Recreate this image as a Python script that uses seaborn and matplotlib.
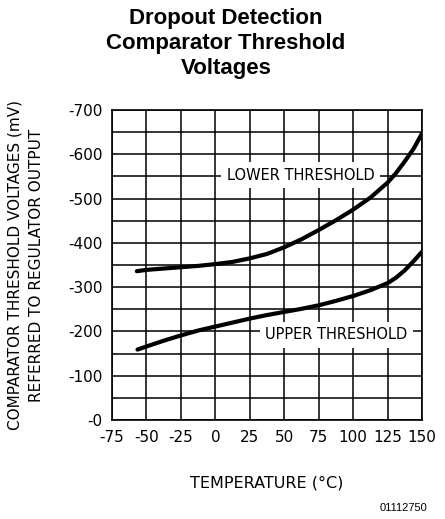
import numpy as np
import pandas as pd
import matplotlib
matplotlib.use("Agg")
import matplotlib.pyplot as plt
from matplotlib.ticker import MultipleLocator, FixedLocator
import seaborn as sns

# values (temperature in degC, threshold in mV)
lower_temp = [-57, -50, -37.5, -25, -12.5, 0, 12.5, 25, 37.5, 50, 62.5, 75, 87.5,
              100, 112.5, 125, 131, 137.5, 144, 150]
lower_mv = [-336, -339, -342, -345, -348, -352, -357, -365, -375, -390, -408, -429, -451,
            -475, -502, -536, -557, -584, -613, -647]
upper_temp = [-56.5, -50, -37.5, -25, -12.5, 0, 12.5, 25, 37.5, 50, 62.5, 75, 87.5,
              100, 112.5, 125, 131, 137.5, 144, 150]
upper_mv = [-159, -166, -179, -191, -202, -211, -220, -229, -237, -244, -251, -259, -269,
            -280, -293, -309, -321, -338, -359, -380]

x_ticks = list(range(-75, 151, 25))
y_ticks = list(range(0, -701, -100))

df = pd.concat([
    pd.DataFrame({"temp": lower_temp, "mv": lower_mv, "curve": "LOWER THRESHOLD"}),
    pd.DataFrame({"temp": upper_temp, "mv": upper_mv, "curve": "UPPER THRESHOLD"}),
])

sns.set_style("white")
plt.rcParams["font.family"] = ["DejaVu Sans"]
for key in ["text.color", "axes.labelcolor", "xtick.color", "ytick.color"]:
    plt.rcParams[key] = "black"

fig = plt.figure(figsize=(4.45, 5.19), dpi=100)
ax = fig.add_axes([112 / 445, 1 - 420 / 519, 310 / 445, 310 / 519])

sns.lineplot(data=df, x="temp", y="mv", units="curve", estimator=None,
             color="black", linewidth=3, ax=ax, zorder=4)

ax.set_xlim(-75, 150)
ax.set_ylim(0, -700)
ax.xaxis.set_major_locator(FixedLocator(x_ticks))
ax.set_xticklabels([str(t) for t in x_ticks])
ax.yaxis.set_major_locator(FixedLocator(y_ticks))
ax.set_yticklabels([f"-{abs(t)}" for t in y_ticks])
ax.yaxis.set_minor_locator(MultipleLocator(50))
ax.grid(which="both", color="black", linewidth=1.1)
ax.tick_params(which="both", length=0, labelsize=11, pad=7)
for s in ax.spines.values():
    s.set_color("black")
    s.set_linewidth(1.2)

ax.set_xlabel("TEMPERATURE (°C)", fontsize=11.5, labelpad=22)
ax.set_ylabel("COMPARATOR THRESHOLD VOLTAGES (mV)\nREFERRED TO REGULATOR OUTPUT",
              fontsize=11, labelpad=17, linespacing=1.55)

box = dict(facecolor="white", edgecolor="none", pad=4)
ax.text(62, -553, "LOWER THRESHOLD", fontsize=10.5, ha="center", va="center",
        bbox=box, zorder=3)
ax.text(88, -192, "UPPER THRESHOLD", fontsize=10.5, ha="center", va="center",
        bbox=box, zorder=3)

fig.text(226 / 445, 1 - 8 / 519, "Dropout Detection\nComparator Threshold\nVoltages",
         ha="center", va="top", fontsize=16, fontweight="bold",
         family="Liberation Sans", linespacing=1.25)
fig.text(427 / 445, 1 - 508 / 519, "01112750", ha="right", va="center",
         fontsize=8, family="Liberation Sans")

fig.savefig("out.png", dpi=100)
